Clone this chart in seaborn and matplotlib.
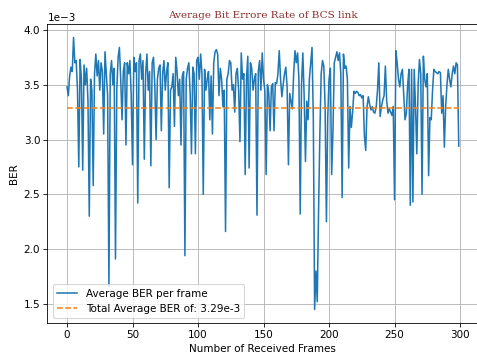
import numpy as np
import pandas as pd
import matplotlib
matplotlib.use("Agg")
import matplotlib.pyplot as plt
import seaborn as sns

# Average BER per received frame, in units of 1e-3
ber_e3 = [
    3.48, 3.40, 3.58, 3.66, 3.62, 3.93, 3.70, 3.72, 3.45, 2.75,
    3.73, 3.55, 2.72, 3.68, 3.50, 3.65, 3.35, 2.30, 3.55, 3.45,
    2.58, 3.60, 3.78, 3.58, 3.72, 3.45, 3.70, 3.62, 3.05, 3.80,
    3.60, 3.40, 1.66, 3.60, 3.72, 3.50, 3.65, 1.91, 3.45, 3.75,
    3.84, 3.55, 3.18, 3.62, 3.70, 2.95, 3.70, 3.60, 3.72, 3.40,
    2.77, 3.75, 3.62, 3.70, 2.42, 3.72, 3.78, 3.55, 3.72, 2.82,
    3.60, 3.78, 3.45, 3.62, 2.76, 3.70, 3.75, 3.50, 3.00, 3.55,
    3.65, 3.68, 3.08, 3.60, 3.72, 3.45, 3.62, 3.70, 2.56, 3.45,
    3.48, 3.60, 3.12, 3.75, 3.62, 3.40, 3.55, 2.95, 3.58, 3.62,
    1.94, 3.55, 3.65, 3.70, 3.42, 2.87, 3.66, 3.60, 2.87, 3.72,
    3.75, 3.55, 3.78, 3.60, 2.50, 3.64, 3.45, 3.55, 3.62, 3.18,
    3.58, 3.05, 3.70, 3.80, 3.82, 3.78, 3.40, 3.65, 3.55, 3.30,
    3.45, 2.16, 3.55, 3.60, 3.72, 3.70, 3.45, 3.50, 3.25, 3.60,
    3.65, 3.45, 2.98, 3.79, 3.55, 3.60, 2.68, 3.55, 3.76, 2.74,
    3.70, 3.65, 3.45, 3.55, 3.60, 2.31, 3.62, 3.72, 3.45, 3.79,
    3.55, 3.45, 2.68, 3.50, 3.42, 3.08, 3.48, 3.51, 3.08, 3.52,
    3.51, 3.60, 3.81, 3.55, 3.39, 3.50, 3.60, 3.66, 3.48, 2.77,
    3.42, 3.35, 3.28, 3.60, 3.81, 3.70, 3.79, 3.55, 2.32, 3.50,
    3.79, 3.40, 2.80, 3.35, 3.18, 3.55, 3.70, 3.84, 3.20, 1.45,
    1.80, 1.52, 2.35, 3.05, 3.60, 3.72, 3.67, 3.30, 2.25, 3.20,
    3.55, 3.65, 2.68, 3.08, 3.70, 3.75, 3.80, 3.72, 3.79, 3.60,
    2.47, 3.78, 3.65, 3.67, 3.55, 2.74, 3.30, 3.11, 3.25, 3.44,
    3.42, 3.44, 3.43, 3.40, 3.41, 3.38, 3.40, 3.03, 2.90, 3.30,
    3.39, 3.32, 3.27, 3.30, 3.25, 3.24, 3.30, 3.45, 3.70, 3.21,
    3.30, 3.36, 3.40, 3.67, 3.35, 3.24, 3.28, 3.25, 3.22, 3.30,
    2.45, 3.81, 3.70, 3.55, 3.48, 3.60, 3.64, 3.40, 3.18, 3.24,
    3.50, 3.64, 2.40, 3.64, 2.43, 3.64, 3.30, 2.87, 3.50, 3.73,
    3.60, 2.50, 3.76, 3.55, 3.48, 3.60, 2.67, 3.20, 3.18, 3.45,
    3.64, 3.62, 3.61, 3.60, 3.62, 3.61, 3.24, 3.40, 2.93, 3.30,
    3.50, 3.64, 3.55, 3.48, 3.60, 3.67, 3.60, 3.70, 3.68, 2.94,
]
total_avg_e3 = 3.29

title = "Average Bit Errore Rate of BCS link"
xlabel = "Number of Received Frames"
ylabel = "BER"
label_frame = "Average BER per frame"
label_avg = "Total Average BER of: 3.29e-3"
xticks = [0, 50, 100, 150, 200, 250, 300]

frames = np.arange(len(ber_e3))
df = pd.DataFrame({"frame": frames, "ber": np.array(ber_e3) * 1e-3})
df_avg = pd.DataFrame({"frame": frames, "avg": np.full(len(frames), total_avg_e3 * 1e-3)})

dpi = 74.53
fig = plt.figure(figsize=(477 / dpi, 360 / dpi), dpi=dpi)
ax = fig.add_axes([0.0994, 0.1028, 0.9034, 0.8306])

sns.lineplot(data=df, x="frame", y="ber", ax=ax, color="#1f77b4", linewidth=1.5,
             label=label_frame)
sns.lineplot(data=df_avg, x="frame", y="avg", ax=ax, color="#ff7f0e", linewidth=1.5,
             linestyle="--", label=label_avg)

ax.set_title(title, family="DejaVu Serif", fontsize=10, color="#8b2d2d")
ax.set_xlabel(xlabel)
ax.set_ylabel(ylabel)
ax.set_xticks(xticks)
ax.ticklabel_format(axis="y", style="sci", scilimits=(-3, -3))
ax.grid(True)
ax.legend(loc="lower left")

fig.savefig("out.png", dpi=dpi)
